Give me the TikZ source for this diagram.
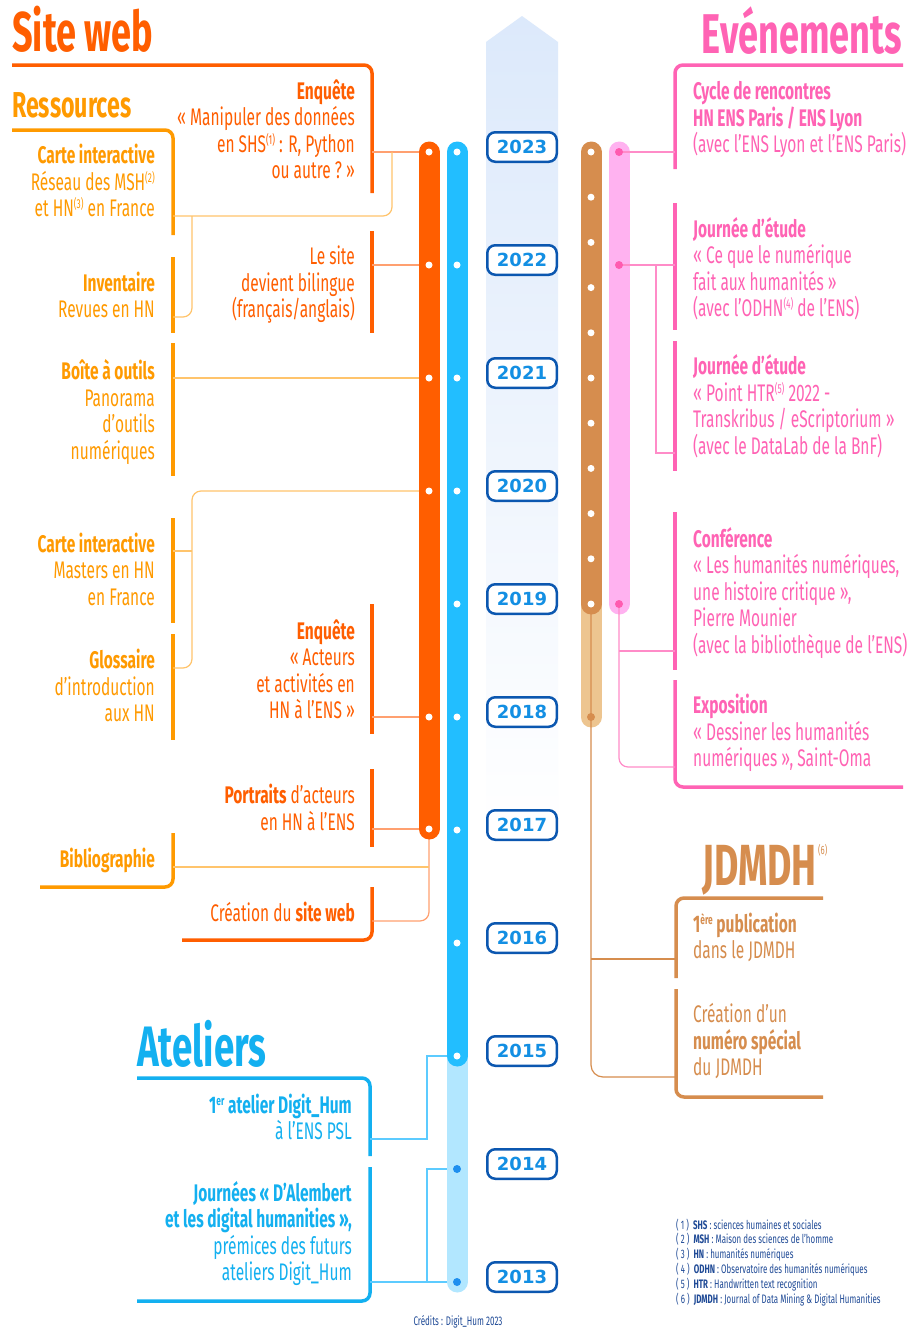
\documentclass[tikz,border=0pt]{standalone}
\usepackage{fontspec}
\setmainfont{Fira Sans}[FakeStretch=0.645]
\newfontfamily\yearfont{DejaVu Sans}
\definecolor{siteor}{HTML}{FF5E00}
\definecolor{resor}{HTML}{FF9A00}
\definecolor{siteconn}{HTML}{FFA070}
\definecolor{resconn}{HTML}{FFC46C}
\definecolor{pinkt}{HTML}{FF63B4}
\definecolor{pinkbar}{HTML}{FFB2F0}
\definecolor{pinkconn}{HTML}{FF8CC8}
\definecolor{pinkdot}{HTML}{FF5BB0}
\definecolor{brownt}{HTML}{D68D4E}
\definecolor{brownlight}{HTML}{EDC590}
\definecolor{bluet}{HTML}{22BEFF}
\definecolor{bluelight}{HTML}{B2E7FF}
\definecolor{bluedot}{HTML}{1E8FEF}
\definecolor{bluec}{HTML}{5CCBFF}
\definecolor{ateliert}{HTML}{13B0F0}
\definecolor{yearb}{HTML}{0B57B0}
\definecolor{yeart}{HTML}{138FE3}
\definecolor{footc}{HTML}{1F4A96}
\definecolor{arrowtop}{HTML}{DCE9FB}
\newcommand\bodyf{\fontsize{24}{26.5}\selectfont}
\newcommand\footf{\fontsize{12.3}{14.8}\selectfont}
\newcommand\fl{\rule{0pt}{19pt}}
\newcommand\sups[1]{\raisebox{8pt}{\fontsize{13}{13}\selectfont #1}}
\newcommand\fn[1]{(\,#1\,)~~}
\begin{document}
\begin{tikzpicture}[x=1pt,y=-1pt,
  lt/.style={anchor=north east, align=right, inner sep=0pt, font=\bodyf},
  rt/.style={anchor=north west, align=left, inner sep=0pt, font=\bodyf},
  title/.style={inner sep=0pt, font=\bfseries\fontsize{56}{56}\selectfont},
  bar/.style={line width=3.5pt},
  conn/.style={line width=1.2pt},
  tl/.style={line width=21pt, line cap=round},
  wdot/.style={circle, fill=white, inner sep=0pt, minimum size=7pt},
  cdot/.style={circle, inner sep=0pt, minimum size=8pt},
  yearbox/.style={draw=yearb, line width=2.5pt, rounded corners=8pt, fill=white,
     minimum width=69.5pt, minimum height=29.5pt, inner sep=0pt, text=yeart,
     font=\yearfont\bfseries\fontsize{18}{18}\selectfont},
]
\useasboundingbox (0,0) rectangle (912,1328);
\fill[white] (0,0) rectangle (912,1328);

% background arrow
\shade[top color=arrowtop, bottom color=white] (486,42) -- (522,16) -- (558,42) -- (558,830) -- (486,830) -- cycle;

% titles
\node[title, text=siteor, anchor=base west] (tsite) at (12,51.7) {Site web};
\node[title, text=pinkt, anchor=base east] (tevent) at (902,53.3) {Evénements};
\node[title, text=resor, anchor=base west, font=\bfseries\fontsize{36}{36}\selectfont] (tres) at (12,117.3) {Ressources};
\node[title, text=ateliert, anchor=base west, font=\bfseries\fontsize{57}{57}\selectfont] (tatel) at (137,1066) {Ateliers};
\node[title, text=brownt, anchor=base west, font=\bfseries\fontsize{58}{58}\selectfont] (tjd) at (702,885) {JDMDH};
\node[inner sep=0pt, text=brownt, anchor=north west, font=\fontsize{12}{12}\selectfont] (tjd6) at ([xshift=1pt]tjd.north east) {(6)};

% heading lines and bars
\draw[bar, siteor, rounded corners=8] (12,65) -- (372,65) -- (372,193);
\draw[bar, resor, rounded corners=8] (12,130) -- (173,130) -- (173,235);
\draw[bar, resor] (173,257) -- (173,333);
\draw[bar, siteor] (372,231) -- (372,333);
\draw[bar, resor] (173,343) -- (173,476);
\draw[bar, resor] (173,518) -- (173,623);
\draw[bar, resor] (173,634) -- (173,740);
\draw[bar, siteor] (372,604) -- (372,734);
\draw[bar, siteor] (372,769) -- (372,847);
\draw[bar, resor, rounded corners=8] (173,833) -- (173,887) -- (40,887);
\draw[bar, siteor, rounded corners=8] (372,887) -- (372,940) -- (182,940);
\draw[bar, pinkt, rounded corners=8] (903,65) -- (675,65) -- (675,169);
\draw[bar, pinkt] (675,203) -- (675,330);
\draw[bar, pinkt] (675,341) -- (675,471);
\draw[bar, pinkt] (675,512) -- (675,670);
\draw[bar, pinkt, rounded corners=8] (675,680) -- (675,787) -- (903,787);
\draw[bar, ateliert, rounded corners=8] (137,1078) -- (370,1078) -- (370,1156);
\draw[bar, ateliert, rounded corners=8] (370,1167) -- (370,1301) -- (137,1301);
\draw[bar, brownt, rounded corners=8] (823,898) -- (676,898) -- (676,978);
\draw[bar, brownt, rounded corners=8] (676,989) -- (676,1097) -- (823,1097);

% connectors under timelines
\draw[conn, siteconn] (372,152) -- (429,152);
\draw[conn, siteconn] (372,265) -- (429,265);
\draw[conn, siteconn] (372,717) -- (429,717);
\draw[conn, siteconn] (372,829) -- (429,829);
\draw[conn, siteconn, rounded corners=9] (429,829) -- (429,921) -- (372,921);
\draw[conn, resconn, rounded corners=9] (173,216) -- (392,216) -- (392,152);
\draw[conn, resconn, rounded corners=9] (192,216) -- (192,317) -- (173,317);
\draw[conn, resconn] (173,378) -- (429,378);
\draw[conn, resconn, rounded corners=9] (429,491) -- (192,491) -- (192,668) -- (173,668);
\draw[conn, resconn] (192,551) -- (173,551);
\draw[conn, resconn] (173,867) -- (429,867);
\draw[conn, bluec] (370,1139) -- (427,1139) -- (427,1056) -- (457,1056);
\draw[conn, bluec] (370,1282) -- (457,1282);
\draw[conn, bluec] (427,1282) -- (427,1169) -- (457,1169);

% timelines
\draw[tl, bluelight] (457,1056) -- (457,1282);
\draw[tl, bluet] (457,152) -- (457,1056);
\draw[tl, siteor] (429,152) -- (429,829);
\draw[tl, brownlight] (591,604) -- (591,717);
\draw[tl, brownt] (591,152) -- (591,604);
\draw[tl, pinkbar] (619,152) -- (619,604);

% connectors over timelines
\draw[conn, pinkconn] (619,152) -- (675,152);
\draw[conn, pinkconn] (619,265) -- (675,265);
\draw[conn, pinkconn] (656,265) -- (656,453) -- (675,453);
\draw[conn, pinkconn, rounded corners=9] (619,604) -- (619,767) -- (675,767);
\draw[conn, pinkconn] (619,651) -- (675,651);
\draw[conn, brownt, rounded corners=12] (591,604) -- (591,1077) -- (676,1077);
\draw[conn, brownt] (591,959) -- (676,959);

% dots
\foreach \y in {152,265,378,491,717,829} \node[wdot] at (429,\y) {};
\foreach \y in {152,265,378,491,604,717,830,943,1056} \node[wdot] at (457,\y) {};
\foreach \y in {1169,1282} \node[cdot, fill=bluedot] at (457,\y) {};
\foreach \k in {0,...,10} \node[wdot] at (591,152+45.2*\k) {};
\node[cdot, fill=brownt] at (591,717) {};
\foreach \y in {152,265,604} \node[cdot, fill=pinkdot] at (619,\y) {};

% years
\foreach \yr/\y in {2023/147,2022/260,2021/373,2020/486,2019/599,2018/712,2017/825,2016/938,2015/1051,2014/1164,2013/1277}
  \node[yearbox] (y\yr) at (522,\y) {\yr};

% left texts
\node[lt, text=siteor] (enq1) at (355,79.3) {\fl\textbf{Enquête}\\«~Manipuler des données\\en SHS\sups{(1)} : R, Python\\ou autre ?~»};
\node[lt, text=resor] (carte1) at (155,144.3) {\fl\textbf{Carte interactive}\\Réseau des MSH\sups{(2)}\\et HN\sups{(3)} en France};
\node[lt, text=resor] (invent) at (155,271.7) {\fl\textbf{Inventaire}\\Revues en HN};
\node[lt, text=siteor] (lesite) at (355,245.3) {\fl Le site\\devient bilingue\\(français/anglais)};
\node[lt, text=resor] (boite) at (155,359.3) {\fl\textbf{Boîte à outils}\\Panorama\\d’outils\\numériques};
\node[lt, text=resor] (carte2) at (155,532.7) {\fl\textbf{Carte interactive}\\Masters en HN\\en France};
\node[lt, text=resor] (gloss) at (155,649.3) {\fl\textbf{Glossaire}\\d’introduction\\aux HN};
\node[lt, text=siteor] (enq2) at (355,619.3) {\fl\textbf{Enquête}\\«~Acteurs\\et activités en\\HN à l’ENS~»};
\node[lt, text=siteor] (portr) at (355,784.3) {\fl\textbf{Portraits} d’acteurs\\en HN à l’ENS};
\node[lt, text=resor] (biblio) at (155,848.3) {\fl\textbf{Bibliographie}};
\node[lt, text=siteor] (creat) at (355,902) {\fl Création du \textbf{site web}};
\node[lt, text=ateliert] (atel1) at (352,1093.7) {\fl\textbf{1\sups{er} atelier Digit\_Hum}\\à l’ENS PSL};
\node[lt, text=ateliert] (atel2) at (352,1181) {\fl\textbf{Journées «~D’Alembert}\\\textbf{et les digital humanities~»,}\\prémices des futurs\\ateliers Digit\_Hum};

% right texts
\node[rt, text=pinkt] (cycle) at (693,80.3) {\fl\textbf{Cycle de rencontres}\\\textbf{HN ENS Paris / ENS Lyon}\\(avec l’ENS Lyon et l’ENS Paris)};
\node[rt, text=pinkt] (jour1) at (693,217) {\fl\textbf{Journée d’étude}\\«~Ce que le numérique\\fait aux humanités~»\\(avec l’ODHN\sups{(4)} de l’ENS)};
\node[rt, text=pinkt] (jour2) at (693,354.3) {\fl\textbf{Journée d’étude}\\«~Point HTR\sups{(5)} 2022 -\\Transkribus / eScriptorium~»\\(avec le DataLab de la BnF)};
\node[rt, text=pinkt] (conf) at (693,527) {\fl\textbf{Conférence}\\«~Les humanités numériques,\\une histoire critique~»,\\Pierre Mounier\\(avec la bibliothèque de l’ENS)};
\node[rt, text=pinkt] (expo) at (693,694.3) {\fl\textbf{Exposition}\\«~Dessiner les humanités\\numériques~», Saint-Oma};
\node[rt, text=brownt] (jd1) at (693,912.7) {\fl\textbf{1\sups{ère} publication}\\dans le JDMDH};
\node[rt, text=brownt] (jd2) at (693,1003.3) {\fl Création d’un\\\textbf{numéro spécial}\\du JDMDH};

% footnotes
\node[anchor=north west, align=left, inner sep=0pt, font=\footf, text=footc] (foot) at (676,1218.5) {\rule{0pt}{9pt}\fn{1}\textbf{SHS} : sciences humaines et sociales\\
\fn{2}\textbf{MSH} : Maison des sciences de l’homme\\
\fn{3}\textbf{HN} : humanités numériques\\
\fn{4}\textbf{ODHN} : Observatoire des humanités numériques\\
\fn{5}\textbf{HTR} : Handwritten text recognition\\
\fn{6}\textbf{JDMDH} : Journal of Data Mining \& Digital Humanities};
\node[anchor=base, inner sep=0pt, font=\fontsize{12.5}{12.5}\selectfont, text=footc] (credit) at (458,1325) {Crédits : Digit\_Hum 2023};
\end{tikzpicture}
\end{document}
